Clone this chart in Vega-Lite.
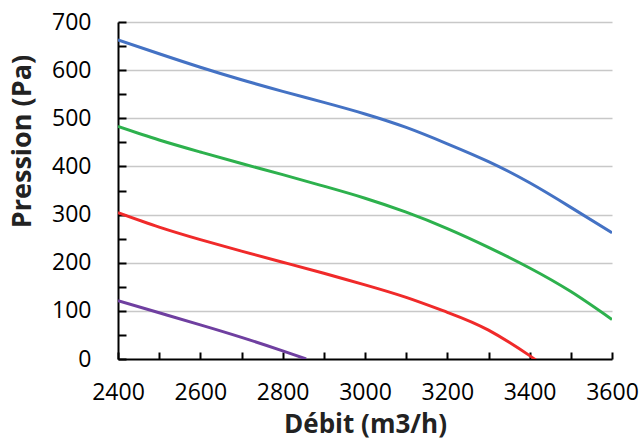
{
  "$schema": "https://vega.github.io/schema/vega-lite/v6.json",
  "width": 494,
  "height": 337,
  "autosize": {"type": "none"},
  "padding": {"left": 118, "top": 22, "right": 31, "bottom": 80},
  "background": "white",
  "config": {
    "view": {"stroke": null},
    "font": "Open Sans"
  },
  "data": {
    "values": [
      {"serie": "A", "debit": 2400, "pression": 663},
      {"serie": "A", "debit": 2500, "pression": 634},
      {"serie": "A", "debit": 2600, "pression": 606},
      {"serie": "A", "debit": 2700, "pression": 580},
      {"serie": "A", "debit": 2800, "pression": 556},
      {"serie": "A", "debit": 2900, "pression": 533},
      {"serie": "A", "debit": 3000, "pression": 509},
      {"serie": "A", "debit": 3100, "pression": 481},
      {"serie": "A", "debit": 3200, "pression": 447},
      {"serie": "A", "debit": 3300, "pression": 410},
      {"serie": "A", "debit": 3400, "pression": 366},
      {"serie": "A", "debit": 3500, "pression": 315},
      {"serie": "A", "debit": 3600, "pression": 262},
      {"serie": "B", "debit": 2400, "pression": 483},
      {"serie": "B", "debit": 2500, "pression": 455},
      {"serie": "B", "debit": 2600, "pression": 430},
      {"serie": "B", "debit": 2700, "pression": 406},
      {"serie": "B", "debit": 2800, "pression": 383},
      {"serie": "B", "debit": 2900, "pression": 359},
      {"serie": "B", "debit": 3000, "pression": 334},
      {"serie": "B", "debit": 3100, "pression": 305},
      {"serie": "B", "debit": 3200, "pression": 271},
      {"serie": "B", "debit": 3300, "pression": 232},
      {"serie": "B", "debit": 3400, "pression": 189},
      {"serie": "B", "debit": 3500, "pression": 140},
      {"serie": "B", "debit": 3600, "pression": 82},
      {"serie": "C", "debit": 2400, "pression": 304},
      {"serie": "C", "debit": 2500, "pression": 274},
      {"serie": "C", "debit": 2600, "pression": 248},
      {"serie": "C", "debit": 2700, "pression": 224},
      {"serie": "C", "debit": 2800, "pression": 201},
      {"serie": "C", "debit": 2900, "pression": 178},
      {"serie": "C", "debit": 3000, "pression": 154},
      {"serie": "C", "debit": 3100, "pression": 128},
      {"serie": "C", "debit": 3200, "pression": 97},
      {"serie": "C", "debit": 3300, "pression": 60},
      {"serie": "C", "debit": 3400, "pression": 7},
      {"serie": "C", "debit": 3410, "pression": 0},
      {"serie": "D", "debit": 2400, "pression": 121},
      {"serie": "D", "debit": 2500, "pression": 96},
      {"serie": "D", "debit": 2600, "pression": 71},
      {"serie": "D", "debit": 2700, "pression": 45},
      {"serie": "D", "debit": 2800, "pression": 17},
      {"serie": "D", "debit": 2857, "pression": 0}
    ]
  },
  "mark": {"type": "line", "strokeWidth": 3, "interpolate": "natural", "clip": true},
  "encoding": {
    "x": {
      "field": "debit", "type": "quantitative",
      "scale": {"domain": [2400, 3600], "nice": false, "zero": false},
      "axis": {
        "title": "Débit (m3/h)",
        "values": [2400, 2500, 2600, 2700, 2800, 2900, 3000, 3100, 3200, 3300, 3400, 3500, 3600],
        "labelExpr": "datum.value % 200 == 0 ? datum.label : ''",
        "format": "d",
        "grid": false,
        "domainColor": "#000000", "domainWidth": 2,
        "tickColor": "#000000", "tickWidth": 2, "tickSize": -7,
        "labelFont": "Open Sans", "labelFontSize": 23, "labelColor": "#000000",
        "labelPadding": 29, "labelFlush": false, "labelOverlap": false,
        "titleFont": "Open Sans", "titleFontSize": 26, "titleFontWeight": "bold", "titleColor": "#222222",
        "titleY": 73, "titleBaseline": "alphabetic"
      }
    },
    "y": {
      "field": "pression", "type": "quantitative",
      "scale": {"domain": [0, 700], "nice": false},
      "axis": {
        "title": "Pression (Pa)",
        "values": [0, 50, 100, 150, 200, 250, 300, 350, 400, 450, 500, 550, 600, 650, 700],
        "labelExpr": "datum.value % 100 == 0 ? datum.label : ''",
        "grid": true,
        "gridColor": "#c8c8c8", "gridWidth": 1.5,
        "gridOpacity": {"condition": {"test": "datum.value % 100 == 0 && datum.value > 0", "value": 1}, "value": 0},
        "domainColor": "#000000", "domainWidth": 2,
        "tickColor": "#000000", "tickWidth": 2, "tickSize": -8,
        "labelFont": "Open Sans", "labelFontSize": 23, "labelColor": "#000000",
        "labelPadding": 35, "labelFlush": false, "labelOverlap": false,
        "titleFont": "Open Sans", "titleFontSize": 27, "titleFontWeight": "bold", "titleColor": "#222222",
        "titleAngle": -90, "titleX": -96, "titleY": 119, "titleAlign": "center", "titleBaseline": "middle"
      }
    },
    "color": {
      "field": "serie", "type": "nominal",
      "scale": {"domain": ["A", "B", "C", "D"], "range": ["#4472C4", "#2DB14D", "#F02A2A", "#6F3FA0"]},
      "legend": null
    }
  }
}
